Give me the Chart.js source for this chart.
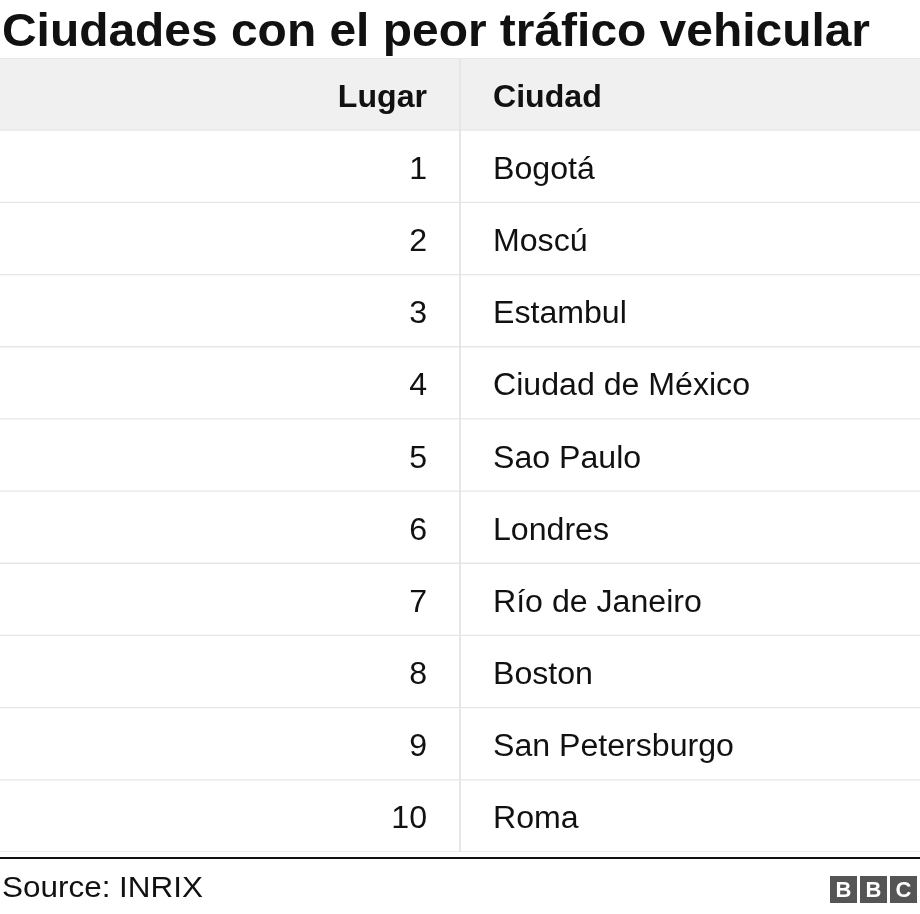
<!DOCTYPE html>
<html><head><meta charset="utf-8">
<script src="https://cdn.jsdelivr.net/npm/chart.js@4"></script>
<style>html,body{margin:0;padding:0;background:#fff}#w{width:920px;height:914px;position:relative}</style>
</head><body><div id="w"><canvas id="c"></canvas></div>
<script>
const titleText = "Ciudades con el peor tráfico vehicular";
const headers = ["Lugar", "Ciudad"];
const places = ["1","2","3","4","5","6","7","8","9","10"];
const cities = ["Bogotá","Moscú","Estambul","Ciudad de México","Sao Paulo","Londres","Río de Janeiro","Boston","San Petersburgo","Roma"];
const sourceText = "Source: INRIX";

const rows = ["header", ...places];
const F = "Arial, 'Liberation Sans', Helvetica, sans-serif";

function txt(ctx, s, x, y, align, sx) {
  ctx.save();
  ctx.translate(x, y); ctx.scale(sx, 1);
  ctx.textAlign = align; ctx.fillText(s, 0, 0);
  ctx.restore();
}

const tablePlugin = {
  id: 'table',
  afterDatasetsDraw(chart) {
    const ctx = chart.ctx, x = chart.scales.x, y = chart.scales.y, a = chart.chartArea;
    ctx.save();
    ctx.fillStyle = '#111';
    ctx.font = "bold 47px " + F; ctx.textBaseline = 'alphabetic';
    txt(ctx, titleText, 2, 46, 'left', 868 / ctx.measureText(titleText).width);
    const divX = x.getPixelForValue(1);
    ctx.strokeStyle = '#e6e6e6'; ctx.lineWidth = 2;
    ctx.beginPath(); ctx.moveTo(divX, a.top); ctx.lineTo(divX, a.bottom); ctx.stroke();
    const lx = divX - 33, cx = divX + 33;
    ctx.font = "31px " + F;
    const sBody = 257 / ctx.measureText("Ciudad de México").width;
    rows.forEach((r, i) => {
      const py = y.getPixelForValue(i) + 4;
      ctx.textBaseline = 'middle';
      ctx.fillStyle = '#111';
      ctx.font = (i === 0 ? "bold " : "") + "31px " + F;
      txt(ctx, i === 0 ? headers[0] : places[i-1], lx, py, 'right', sBody);
      txt(ctx, i === 0 ? headers[1] : cities[i-1], cx, py, 'left', sBody);
    });
    ctx.strokeStyle = '#111'; ctx.lineWidth = 2;
    ctx.beginPath(); ctx.moveTo(0, 858); ctx.lineTo(920, 858); ctx.stroke();
    ctx.font = "30px " + F; ctx.fillStyle = '#111'; ctx.textBaseline = 'alphabetic';
    txt(ctx, sourceText, 2, 897, 'left', 201 / ctx.measureText(sourceText).width);
    ['B','B','C'].forEach((ch, k) => {
      const bx = 830 + k * 30;
      ctx.fillStyle = '#555'; ctx.fillRect(bx, 876, 27, 27);
      ctx.fillStyle = '#fff'; ctx.font = "bold 22px " + F; ctx.textAlign = 'center'; ctx.textBaseline = 'middle';
      ctx.fillText(ch, bx + 13.5, 891);
    });
    ctx.restore();
  }
};

new Chart(document.getElementById('c'), {
  type: 'bar',
  data: {
    labels: rows,
    datasets: [{
      data: rows.map(() => [0, 2]),
      backgroundColor: rows.map((r, i) => i === 0 ? '#f0f0f0' : '#ffffff'),
      borderColor: '#e6e6e6',
      borderWidth: { top: 1, bottom: 1, left: 0, right: 0 },
      borderSkipped: false,
      barPercentage: 1, categoryPercentage: 1
    }]
  },
  options: {
    indexAxis: 'y', responsive: true, maintainAspectRatio: false, animation: false,
    layout: { padding: { top: 58, bottom: 62, left: 0, right: 0 } },
    plugins: { legend: { display: false }, tooltip: { enabled: false }, title: { display: false } },
    scales: {
      x: { type: 'linear', min: 0, max: 2, display: false },
      y: { type: 'category', display: false, offset: true }
    }
  },
  plugins: [tablePlugin]
});
</script></body></html>
